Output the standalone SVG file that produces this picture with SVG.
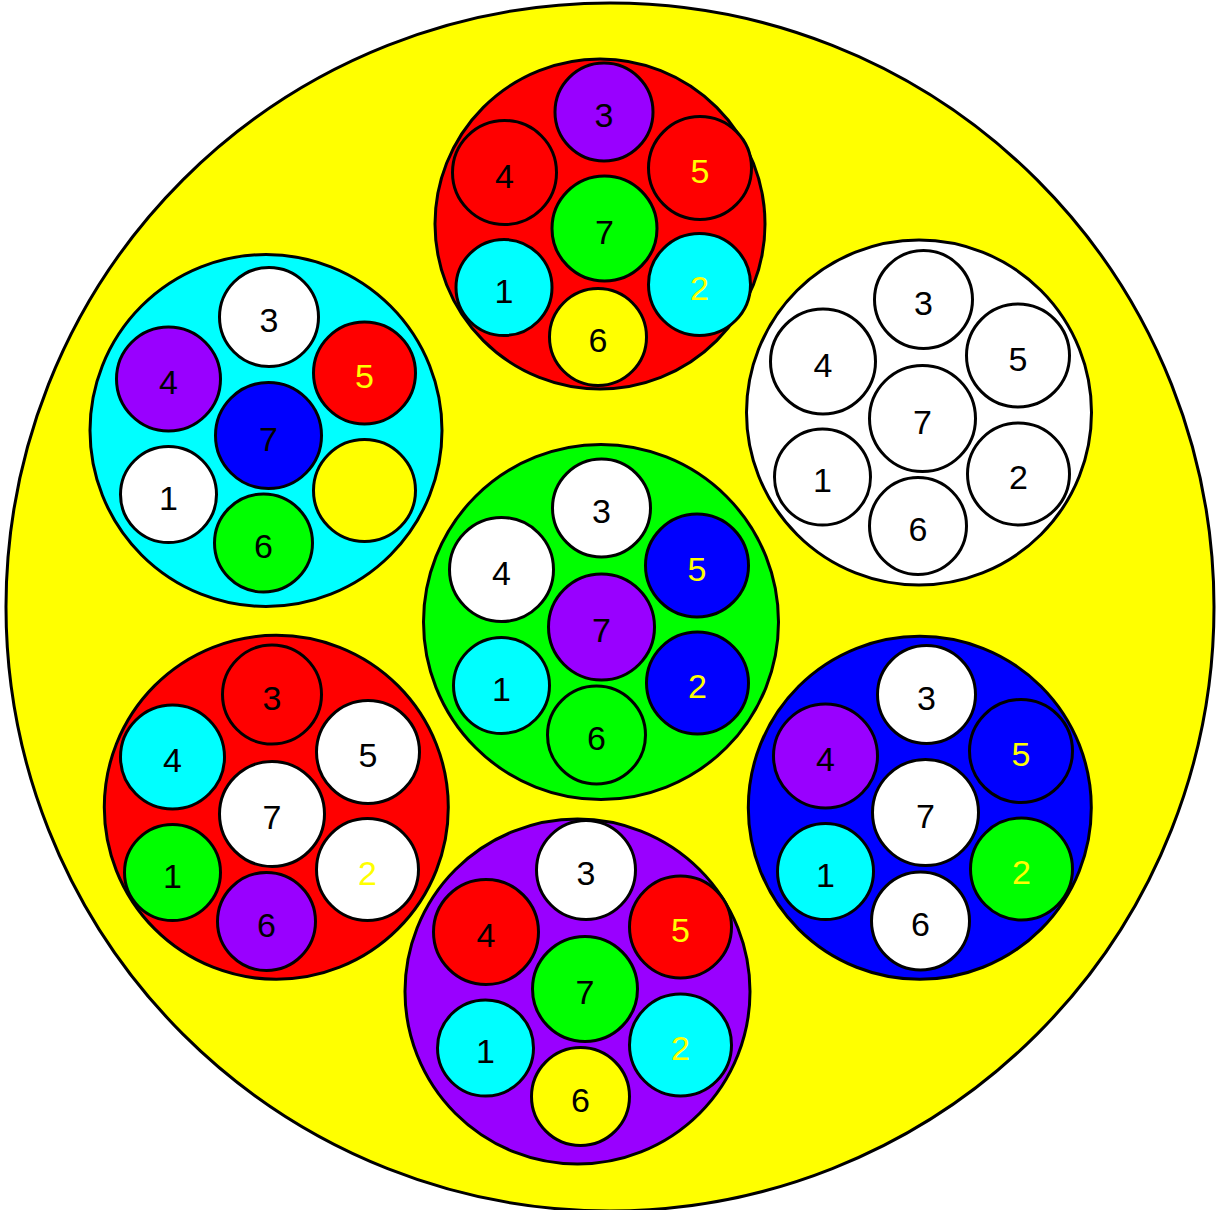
<svg xmlns="http://www.w3.org/2000/svg" width="1218" height="1210" viewBox="0 0 1218 1210">
<style>
circle{stroke:#000;stroke-width:3}
.R{fill:#ff0000}.P{fill:#9900ff}.G{fill:#00ff00}.C{fill:#00ffff}.Y{fill:#ffff00}.B{fill:#0000ff}.W{fill:#ffffff}
text{font-family:"Liberation Sans",Arial,sans-serif;font-size:34px;text-anchor:middle;fill:#000}
text.y{fill:#ffff00}
</style>
<g id="cable"><circle class="Y" cx="610" cy="607" r="604" stroke-width="2.5"/></g>

<g id="bundle-top">
<circle class="R" cx="600" cy="224" r="165"/>
<circle class="P" cx="604" cy="112" r="49"/><text x="604" y="127">3</text>
<circle class="R" cx="504.5" cy="172.5" r="52"/><text x="504.5" y="188">4</text>
<circle class="R" cx="700" cy="168" r="51.5"/><text class="y" x="700" y="183">5</text>
<circle class="G" cx="604.5" cy="228.5" r="52.5"/><text x="604.5" y="244">7</text>
<circle class="C" cx="504" cy="287.5" r="48"/><text x="504" y="303">1</text>
<circle class="C" cx="699.5" cy="284.5" r="51"/><text class="y" x="699.5" y="300">2</text>
<circle class="Y" cx="598" cy="337" r="48.5"/><text x="598" y="352">6</text>
</g>

<g id="bundle-left">
<circle class="C" cx="266" cy="430.5" r="176"/>
<circle class="W" cx="269" cy="317" r="49.5"/><text x="269" y="332">3</text>
<circle class="P" cx="168.5" cy="379" r="52"/><text x="168.5" y="394">4</text>
<circle class="R" cx="364.5" cy="373" r="51"/><text class="y" x="364.5" y="388">5</text>
<circle class="B" cx="268.5" cy="435.5" r="53"/><text x="268.5" y="451">7</text>
<circle class="W" cx="168.5" cy="494.5" r="48"/><text x="168.5" y="510">1</text>
<circle class="Y" cx="364.5" cy="490.5" r="51"/>
<circle class="G" cx="263.5" cy="543" r="49"/><text x="263.5" y="558">6</text>
</g>

<g id="bundle-right">
<circle class="W" cx="919" cy="412.5" r="172.5"/>
<circle class="W" cx="923.5" cy="299.5" r="49"/><text x="923.5" y="315">3</text>
<circle class="W" cx="823" cy="361.5" r="52.5"/><text x="823" y="377">4</text>
<circle class="W" cx="1018" cy="355.5" r="51.5"/><text x="1018" y="371">5</text>
<circle class="W" cx="922.5" cy="418.5" r="53"/><text x="922.5" y="434">7</text>
<circle class="W" cx="822.5" cy="477" r="48"/><text x="822.5" y="492">1</text>
<circle class="W" cx="1018.5" cy="474" r="51"/><text x="1018.5" y="489">2</text>
<circle class="W" cx="918" cy="526" r="48.5"/><text x="918" y="541">6</text>
</g>

<g id="bundle-center">
<circle class="G" cx="601" cy="622" r="177.5"/>
<circle class="W" cx="601.5" cy="508" r="49"/><text x="601.5" y="523">3</text>
<circle class="W" cx="501.5" cy="569.5" r="52"/><text x="501.5" y="585">4</text>
<circle class="B" cx="697" cy="565.5" r="51.5"/><text class="y" x="697" y="581">5</text>
<circle class="P" cx="601.5" cy="627" r="53"/><text x="601.5" y="642">7</text>
<circle class="C" cx="501.5" cy="685.5" r="48"/><text x="501.5" y="701">1</text>
<circle class="B" cx="697.5" cy="683" r="51"/><text class="y" x="697.5" y="698">2</text>
<circle class="G" cx="596.5" cy="735" r="49"/><text x="596.5" y="750">6</text>
</g>

<g id="bundle-lowerleft">
<circle class="R" cx="276.3" cy="807.3" r="172"/>
<circle class="R" cx="272" cy="694.5" r="49.5"/><text x="272" y="710">3</text>
<circle class="C" cx="172.5" cy="757" r="52"/><text x="172.5" y="772">4</text>
<circle class="W" cx="368" cy="752" r="51.5"/><text x="368" y="767">5</text>
<circle class="W" cx="272" cy="814" r="52.5"/><text x="272" y="829">7</text>
<circle class="G" cx="172.5" cy="872.5" r="48"/><text x="172.5" y="888">1</text>
<circle class="W" cx="367.5" cy="869.5" r="51"/><text class="y" x="367.5" y="885">2</text>
<circle class="P" cx="266.5" cy="921.5" r="49"/><text x="266.5" y="937">6</text>
</g>

<g id="bundle-lowerright">
<circle class="B" cx="919.8" cy="807.8" r="171.5"/>
<circle class="W" cx="926.5" cy="694.5" r="49"/><text x="926.5" y="710">3</text>
<circle class="P" cx="825.5" cy="756" r="52"/><text x="825.5" y="771">4</text>
<circle class="B" cx="1021" cy="751" r="51.5"/><text class="y" x="1021" y="766">5</text>
<circle class="W" cx="925.5" cy="812.5" r="53"/><text x="925.5" y="828">7</text>
<circle class="C" cx="825.5" cy="871.5" r="48"/><text x="825.5" y="887">1</text>
<circle class="G" cx="1021.5" cy="869" r="51"/><text class="y" x="1021.5" y="884">2</text>
<circle class="W" cx="920.5" cy="921" r="49"/><text x="920.5" y="936">6</text>
</g>

<g id="bundle-bottom">
<circle class="P" cx="577.5" cy="991.5" r="172.5"/>
<circle class="W" cx="586" cy="870" r="49.5"/><text x="586" y="885">3</text>
<circle class="R" cx="486" cy="932" r="52.5"/><text x="486" y="947">4</text>
<circle class="R" cx="680.5" cy="927" r="51"/><text class="y" x="680.5" y="942">5</text>
<circle class="G" cx="585" cy="989" r="52.5"/><text x="585" y="1004">7</text>
<circle class="C" cx="485.5" cy="1048" r="48"/><text x="485.5" y="1063">1</text>
<circle class="C" cx="680.5" cy="1045" r="51"/><text class="y" x="680.5" y="1060">2</text>
<circle class="Y" cx="580.5" cy="1096.5" r="49"/><text x="580.5" y="1112">6</text>
</g>
</svg>
